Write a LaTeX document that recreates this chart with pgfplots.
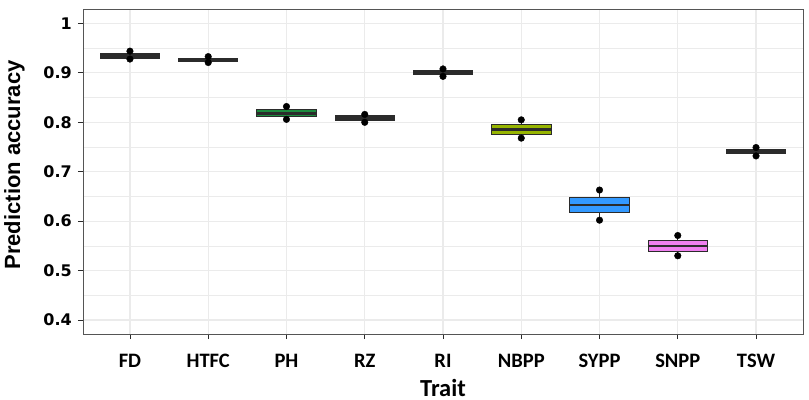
\documentclass[border=0pt]{standalone}
\usepackage{pgfplots}
\pgfplotsset{compat=1.18}
\usepgfplotslibrary{statistics}
\usepackage{fontspec}
\setmainfont{Carlito}
\newfontfamily\arialf{Liberation Sans}
\newfontfamily\verdf{DejaVu Sans}
\definecolor{g20}{HTML}{2B2B2B}
\definecolor{gridc}{HTML}{EBEBEB}
\definecolor{borderc}{HTML}{555555}
\definecolor{phc}{HTML}{1C8B3E}
\definecolor{nbc}{HTML}{96B400}
\definecolor{syc}{HTML}{3399FF}
\definecolor{snc}{HTML}{EE7FEE}
\begin{document}
\begin{tikzpicture}
\path[use as bounding box] (-83bp,-66bp) rectangle (726bp,334bp);
\begin{axis}[
  scale only axis, width=720bp, height=325bp,
  xmin=0.4, xmax=9.6, ymin=0.3717, ymax=1.0293,
  xtick={1,2,3,4,5,6,7,8,9},
  xticklabels={FD,HTFC,PH,RZ,RI,NBPP,SYPP,SNPP,TSW},
  ytick={0.4,0.5,0.6,0.7,0.8,0.9,1.0},
  yticklabels={0.4,0.5,0.6,0.7,0.8,0.9,1},
  minor ytick={0.45,0.55,0.65,0.75,0.85,0.95},
  grid=both,
  major grid style={draw=gridc, line width=1.1bp},
  minor grid style={draw=gridc, line width=0.55bp},
  axis line style={draw=borderc, line width=0.9bp},
  tick align=outside, xtick pos=bottom, ytick pos=left,
  major tick length=5bp, minor tick length=0pt,
  tick style={draw=g20, line width=0.9bp},
  xticklabel style={font=\fontsize{20.5bp}{24bp}\selectfont\bfseries, inner sep=0pt, anchor=base, yshift=-28.7bp},
  yticklabel style={font=\verdf\fontsize{16bp}{19bp}\selectfont\bfseries, inner sep=0pt, anchor=east, xshift=-6bp},
  xlabel={Trait},
  xlabel style={at={(axis description cs:0.5,0)}, anchor=base, yshift=-62bp, font=\fontsize{24.5bp}{27bp}\selectfont\bfseries, inner sep=0pt},
  ylabel={Prediction accuracy},
  ylabel style={at={(axis description cs:-0.0875,0.52)}, anchor=base, font=\arialf\fontsize{22bp}{26bp}\selectfont\bfseries, inner sep=0pt},
  boxplot/draw direction=y,
  boxplot/box extend=0.76,
  boxplot/whisker extend=0,
  boxplot/every median/.style={line width=2.6bp, draw=g20},
  boxplot/every whisker/.style={line width=1.1bp, draw=g20},
  boxplot/every box/.style={line width=1.0bp, draw=g20},
]
\addplot[fill=g20, draw=g20, boxplot prepared={lower whisker=0.928, lower quartile=0.930, median=0.936, upper quartile=0.940, upper whisker=0.944, draw position=1}] coordinates {};
\addplot[fill=g20, draw=g20, boxplot prepared={lower whisker=0.921, lower quartile=0.924, median=0.927, upper quartile=0.930, upper whisker=0.933, draw position=2}] coordinates {};
\addplot[fill=phc, draw=g20, boxplot prepared={lower whisker=0.806, lower quartile=0.811, median=0.818, upper quartile=0.825, upper whisker=0.832, draw position=3}] coordinates {};
\addplot[fill=g20, draw=g20, boxplot prepared={lower whisker=0.800, lower quartile=0.804, median=0.809, upper quartile=0.814, upper whisker=0.816, draw position=4}] coordinates {};
\addplot[fill=g20, draw=g20, boxplot prepared={lower whisker=0.893, lower quartile=0.896, median=0.901, upper quartile=0.905, upper whisker=0.908, draw position=5}] coordinates {};
\addplot[fill=nbc, draw=g20, boxplot prepared={lower whisker=0.768, lower quartile=0.776, median=0.786, upper quartile=0.796, upper whisker=0.805, draw position=6}] coordinates {};
\addplot[fill=syc, draw=g20, boxplot prepared={lower whisker=0.602, lower quartile=0.617, median=0.633, upper quartile=0.648, upper whisker=0.663, draw position=7}] coordinates {};
\addplot[fill=snc, draw=g20, boxplot prepared={lower whisker=0.530, lower quartile=0.539, median=0.550, upper quartile=0.561, upper whisker=0.571, draw position=8}] coordinates {};
\addplot[fill=g20, draw=g20, boxplot prepared={lower whisker=0.732, lower quartile=0.736, median=0.740, upper quartile=0.745, upper whisker=0.749, draw position=9}] coordinates {};
\addplot[only marks, mark=*, mark size=3.3bp, black, mark options={draw=black, fill=black}] coordinates {
(1,0.944) (1,0.928) (2,0.933) (2,0.921) (3,0.832) (3,0.806) (4,0.816) (4,0.800)
(5,0.908) (5,0.893) (6,0.805) (6,0.768) (7,0.663) (7,0.602) (8,0.571) (8,0.530)
(9,0.749) (9,0.732)};
\end{axis}
\end{tikzpicture}
\end{document}
